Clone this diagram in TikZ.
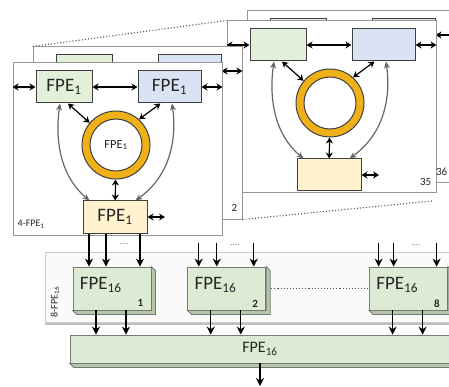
\documentclass[tikz,border=0pt]{standalone}
\usepackage{fontspec}
\setmainfont{Carlito}
\usetikzlibrary{positioning,arrows.meta,shadows}
\definecolor{gfill}{RGB}{226,239,217}
\definecolor{bfill}{RGB}{218,227,243}
\definecolor{ofill}{RGB}{255,242,204}
\definecolor{ringgold}{RGB}{240,176,24}
\definecolor{edge}{RGB}{64,64,64}
\definecolor{panelgray}{RGB}{150,150,150}
\definecolor{cubefill}{RGB}{221,235,212}
\definecolor{cubeside}{RGB}{182,198,170}
\definecolor{cubeedge}{RGB}{120,120,120}
\definecolor{txt}{RGB}{38,38,38}
\newcommand{\fsz}[1]{\fontsize{#1}{#1}\selectfont}
\newcommand{\idx}[1]{\textsubscript{#1}}
\tikzset{
  panel/.style={draw=panelgray,line width=1pt,fill=white,inner sep=0pt,
               minimum width=209pt,minimum height=172pt},
  fpe/.style={draw=edge,line width=1pt,minimum height=32pt,inner sep=0pt,
             font=\fsz{19},text=txt},
  greenbox/.style={fpe,fill=gfill,minimum width=56pt},
  bluebox/.style={fpe,fill=bfill,minimum width=63pt},
  orangebox/.style={fpe,fill=ofill,minimum width=64pt},
  ring/.style={circle,draw=edge,line width=1pt,fill=ringgold,minimum size=68pt,
              inner sep=0pt,font=\fsz{12.5},text=txt,
              path picture={\draw[edge,line width=1pt,fill=white]
                (path picture bounding box.center) circle (26pt);}},
  dbl/.style={{Stealth[length=6pt,width=7pt]}-{Stealth[length=6pt,width=7pt]},
             line width=1.2pt,black},
  curv/.style={{Stealth[length=7pt,width=6pt]}-{Stealth[length=7pt,width=6pt]},
              line width=1.2pt,black!60},
  feed/.style={-{Stealth[length=8pt,width=8pt]},line width=1.2pt,black},
  dotline/.style={dotted,line width=1.1pt,black!65},
  plabel/.style={font=\fsz{11},text=txt,inner sep=0pt},
  grpanel/.style={draw=black!20,line width=0.8pt,fill=black!2,inner sep=0pt,
                 minimum width=415pt,minimum height=70pt,
                 drop shadow={shadow xshift=0pt,shadow yshift=-2.5pt,fill=black!25,opacity=1}},
  cube/.style={draw=cubeedge,line width=0.8pt,fill=cubefill,inner sep=0pt,
              minimum width=78pt,minimum height=43pt,text=txt},
  cubetext/.style={font=\fsz{19},text=txt,inner sep=0pt,anchor=west},
  cubeidx/.style={font=\fsz{11}\bfseries,text=txt,inner sep=0pt},
  dotsnode/.style={font=\fsz{9},text=black!50,inner sep=0pt},
}
% one processing-element panel, #1 name, #2 shift, #3 box text, #4 ring text
\newcommand{\fpepanel}[4]{%
  \begin{scope}[shift={#2}]
    \node[panel] (#1) at (117.5,149) {};
    \node[greenbox] (#1-g) at (64,87) {#3};
    \node[bluebox] (#1-b) at (169.5,87) {#3};
    \node[ring] (#1-r) at (116,145) {#4};
    \node[orangebox] (#1-o) at (115,217) {#3};
    \coordinate (#1-x) at (165,217);
    \draw[dbl] (#1-g.west -| #1.west) -- (#1-g.west);
    \draw[dbl] (#1-g) -- (#1-b);
    \draw[dbl] (#1-b.east) -- (#1-b.east -| #1.east);
    \draw[dbl] ([xshift=4pt]#1-g.south) -- (#1-r.140);
    \draw[dbl] ([xshift=-9pt]#1-b.south) -- (#1-r.48);
    \draw[dbl] (#1-r) -- (#1-o);
    \draw[dbl] (#1-o) -- (#1-x);
    \draw[curv] ([xshift=-4pt]#1-g.south) .. controls +(-5,35) and +(-30,-25) .. ([xshift=7pt]#1-o.north west);
    \draw[curv] ([xshift=2.5pt]#1-b.south) .. controls +(5,35) and +(35,-25) .. ([xshift=-12pt]#1-o.north east);
  \end{scope}
}
% draw the bevelled sides of a cube node
\newcommand{\cubesides}[1]{%
  \filldraw[cubeside,draw=cubeedge,line width=0.8pt] (#1.north east) -- ++(4,4)
    -- ([shift={(4,4)}]#1.south east) -- ([shift={(4,4)}]#1.south west)
    -- (#1.south west) -- (#1.south east) -- cycle;
}
\begin{document}
\begin{tikzpicture}[x=1pt,y=-1pt]
  \useasboundingbox (0,0) rectangle (449,387);
  \clip (0,0) rectangle (449,387);

  % stacks of 4-FPE panels
  \fpepanel{p36}{(234,-52)}{}{}
  \fpepanel{p35}{(214,-42)}{}{}
  \fpepanel{p2}{(20,-16)}{}{}
  \draw[dotline] (p2.north west) -- (p35.north west);
  \coordinate (dotend) at (432,201);
  \draw[dotline] (p2.south east) -- (dotend);
  \fpepanel{p4}{(0,0)}{FPE\idx{1}}{FPE\idx{1}}

  \node[plabel,anchor=south east] (l36) at ([xshift=-9pt,yshift=8pt]p36.south east) {36};
  \node[plabel,anchor=south east] (l35) at ([xshift=-5pt,yshift=8pt]p35.south east) {35};
  \node[plabel,anchor=south east] (l2) at ([xshift=-5pt,yshift=8pt]p2.south east) {2};
  \node[plabel,font=\fsz{10},anchor=south west] (l4) at ([xshift=5pt,yshift=7pt]p4.south west) {4-FPE\idx{1}};

  % 8-FPE16 group
  \node[grpanel] (p8) at (252.5,287) {};
  \node[plabel,font=\fsz{10},rotate=90] (l8) at (55,302) {8-FPE\idx{16}};

  \node[cube] (f1) at (112,288.5) {};
  \node[cube,right=36pt of f1] (f2) {};
  \node[cube,right=103pt of f2] (f8) {};
  \foreach \n/\k in {f1/1,f2/2,f8/8} {
    \cubesides{\n}
    \node[cubetext] (\n-t) at ([xshift=7pt,yshift=3.5pt]\n.west) {FPE\idx{16}};
    \node[cubeidx] (\n-i) at ([xshift=-11pt,yshift=7pt]\n.south east) {\k};
  }
  \draw[dotline] ([xshift=5pt]f2.east) -- (f8.west);

  \node[cube,minimum width=380pt,minimum height=28pt,font=\fsz{16}] (big) at (260,349) {FPE\idx{16}};
  \cubesides{big}

  % inputs
  \foreach \dx [count=\i] in {-26,-9,25} {
    \coordinate (a1-\i) at ([xshift=\dx pt]p4-o.south);
    \draw[feed] (a1-\i) -- (a1-\i |- f1.north);
  }
  \foreach \dx [count=\i] in {-28,-10,27} {
    \coordinate (a2-\i) at ([xshift=\dx pt,yshift=24pt]f2.north);
    \draw[feed] (a2-\i) -- (a2-\i |- f2.north);
  }
  \foreach \dx [count=\i] in {-30,-15,28} {
    \coordinate (a8-\i) at ([xshift=\dx pt,yshift=24pt]f8.north);
    \draw[feed] (a8-\i) -- (a8-\i |- f8.north);
  }
  \node[dotsnode] (d1) at (124,244) {....};
  \node[dotsnode] (d2) at (235,245) {....};
  \node[dotsnode] (d8) at (416,245) {....};

  % outputs
  \foreach \n in {f1,f2,f8} {
    \foreach \dx [count=\i] in {-16,14} {
      \coordinate (\n-o\i) at ([xshift=\dx pt]\n.south);
      \draw[feed] (\n-o\i) -- (\n-o\i |- big.north);
    }
  }
  \coordinate (out) at (260,386);
  \draw[feed] (big.south) -- (out);
\end{tikzpicture}
\end{document}
